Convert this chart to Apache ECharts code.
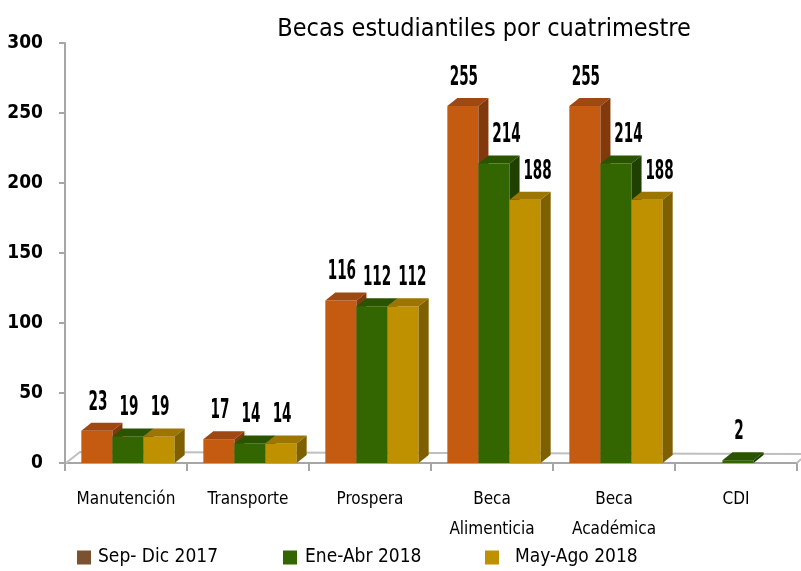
<!DOCTYPE html>
<html>
<head>
<meta charset="utf-8">
<script src="https://cdn.jsdelivr.net/npm/echarts@6/dist/echarts.min.js"></script>
<style>
  html, body { margin: 0; padding: 0; background: #fff; }
  #chart { width: 801px; height: 571px; }
</style>
</head>
<body>
<div id="chart"></div>
<script>
// datos
const categories = ['Manutención', 'Transporte', 'Prospera', 'Beca\nAlimenticia', 'Beca\nAcadémica', 'CDI'];
const seriesNames = ['Sep- Dic 2017', 'Ene-Abr 2018', 'May-Ago 2018'];
const sepDic2017 = [23, 17, 116, 255, 255, null];
const eneAbr2018 = [19, 14, 112, 214, 214, 2];
const mayAgo2018 = [19, 14, 112, 188, 188, null];
const yTicks = [0, 50, 100, 150, 200, 250, 300];

const allValues = [sepDic2017, eneAbr2018, mayAgo2018];
const font = "'Liberation Sans Narrow', 'DejaVu Sans Condensed', sans-serif";

// colores: cara frontal, cara superior, cara lateral
const faces = [
  { front: '#C55A11', top: '#A04812', side: '#823A0C' },
  { front: '#336600', top: '#2A5400', side: '#1F4000' },
  { front: '#BF9000', top: '#9C7600', side: '#7F6000' }
];
const legendColors = ['#7B5230', '#336600', '#BF9000'];

const dx = 10, dy = -8;
const labelScale = 0.58;
const labelCharW = 10.4;

function barX0(k, i, api) {
  const w = api.size([1, 0])[0] * 0.255;
  const cx = api.coord([i, 0])[0];
  return { x0: cx + 2 - 1.5 * w + k * w, w: w };
}

// posicion de la etiqueta, evitando choques con la barra y etiqueta anterior
function labelPos(k, i, api) {
  const v = allValues[k][i];
  const b = barX0(k, i, api);
  const y1 = api.coord([i, v])[1];
  const ly = y1 + dy - 7;
  const half = String(v).length * labelCharW / 2;
  let lx = b.x0 + b.w / 2 + 1;
  if (k > 0) {
    const prev = allValues[k - 1][i];
    if (prev != null) {
      if (prev > v) {
        const prevTop = api.coord([i, prev])[1] + dy;
        if (ly - 5 > prevTop) {
          lx = Math.max(lx, b.x0 + dx + 18);
        }
      }
      const p = labelPos(k - 1, i, api);
      if (Math.abs(p.ly - ly) < 20 && p.lx + p.half + 4 > lx - half) {
        lx = p.lx + p.half + 4 + half;
      }
    }
  }
  return { lx: lx, ly: ly, half: half };
}

function barRenderer(k) {
  return function (params, api) {
    const i = api.value(0);
    const v = api.value(1);
    if (isNaN(v)) return null;
    const b = barX0(k, i, api);
    const x0 = b.x0, w = b.w;
    const y1 = api.coord([i, v])[1];
    const y0 = api.coord([i, 0])[1];
    const c = faces[k];
    const lab = labelPos(k, i, api);

    return {
      type: 'group',
      children: [
        {
          type: 'rect',
          shape: { x: x0, y: y1, width: w, height: y0 - y1 },
          style: { fill: c.front }
        },
        {
          type: 'polygon',
          shape: { points: [[x0, y1], [x0 + dx, y1 + dy], [x0 + w + dx, y1 + dy], [x0 + w, y1]] },
          style: { fill: c.top }
        },
        {
          type: 'polygon',
          shape: { points: [[x0 + w, y1], [x0 + w + dx, y1 + dy], [x0 + w + dx, y0 + dy], [x0 + w, y0]] },
          style: { fill: c.side }
        },
        {
          type: 'text',
          x: lab.lx,
          y: lab.ly,
          scaleX: labelScale,
          style: {
            text: String(v),
            align: 'center',
            verticalAlign: 'bottom',
            fill: '#000',
            fontSize: 26,
            fontWeight: 'bold',
            fontFamily: font
          }
        }
      ]
    };
  };
}

// piso 3D detras de las barras
function floorRenderer(params, api) {
  const cs = params.coordSys;
  const yb = cs.y + cs.height;
  const xr = cs.x + cs.width;
  return {
    type: 'group',
    children: [
      {
        type: 'polyline',
        shape: { points: [[cs.x + 1, yb], [cs.x + 15, yb - 11], [xr + 4, yb - 9]] },
        style: { stroke: '#BFBFBF', lineWidth: 2, fill: null }
      },
      {
        type: 'line',
        shape: { x1: xr, y1: yb, x2: xr + 4, y2: yb - 4 },
        style: { stroke: '#BFBFBF', lineWidth: 2 }
      }
    ]
  };
}

const chart = echarts.init(document.getElementById('chart'));

const barSeries = allValues.map((vals, k) => ({
  name: seriesNames[k],
  type: 'custom',
  renderItem: barRenderer(k),
  itemStyle: { color: faces[k].front },
  encode: { x: 0, y: 1 },
  data: vals.map((v, i) => [i, v == null ? NaN : v]),
  z: 3
}));

const legends = seriesNames.map((name, k) => ({
  data: [{ name: name, itemStyle: { color: legendColors[k] } }],
  left: [77, 283, 485][k],
  top: 548,
  padding: 0,
  icon: 'rect',
  itemWidth: 14,
  itemHeight: 14,
  selectedMode: false,
  textStyle: {
    fontSize: 19,
    fontFamily: font,
    color: '#000',
    padding: [0, 0, 0, [2, 3, 11][k]]
  }
}));

const option = {
  animation: false,
  title: {
    text: 'Becas estudiantiles por cuatrimestre',
    left: 479,
    textAlign: 'center',
    top: 12,
    textStyle: { fontSize: 25, fontWeight: 'normal', fontFamily: font, color: '#000' }
  },
  legend: legends,
  grid: { left: 65, right: 4, top: 43, bottom: 108 },
  xAxis: {
    type: 'category',
    data: categories,
    axisLine: { lineStyle: { color: '#A6A6A6', width: 2 } },
    axisTick: { show: true, length: 8, alignWithLabel: false, interval: 0, lineStyle: { color: '#A6A6A6', width: 2 } },
    axisLabel: { interval: 0, fontSize: 17, lineHeight: 30, margin: 22, color: '#000', fontFamily: font }
  },
  yAxis: {
    type: 'value',
    min: yTicks[0],
    max: yTicks[yTicks.length - 1],
    interval: 50,
    splitLine: { show: false },
    axisLine: { show: true, lineStyle: { color: '#A6A6A6', width: 2 } },
    axisTick: { show: true, length: 6, lineStyle: { color: '#A6A6A6', width: 2 } },
    axisLabel: { fontSize: 19, fontWeight: 'bold', margin: 22, color: '#000', fontFamily: font }
  },
  series: [
    {
      name: 'piso',
      type: 'custom',
      renderItem: floorRenderer,
      data: [[0, 0]],
      encode: { x: 0, y: 1 },
      silent: true,
      z: 1
    }
  ].concat(barSeries)
};

chart.setOption(option);
</script>
</body>
</html>
